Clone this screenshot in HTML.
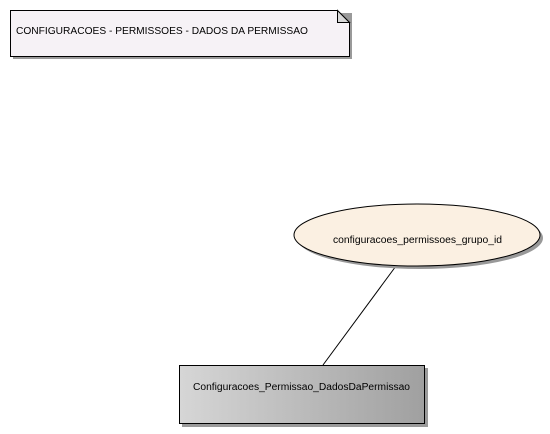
<!DOCTYPE html>
<html><head><style>
html,body{margin:0;padding:0;background:#fff;width:550px;height:434px;overflow:hidden}
svg text{font-family:"Liberation Sans",sans-serif;font-size:10px;fill:#000}
</style></head><body>
<svg width="550" height="434" xmlns="http://www.w3.org/2000/svg">
<defs>
<linearGradient id="g" x1="0" x2="1" y1="0" y2="0">
<stop offset="0" stop-color="#d6d6d6"/><stop offset="1" stop-color="#a0a0a0"/>
</linearGradient>
</defs>
<path d="M13,13 H352 V59 H13 Z" fill="#9a9a9a"/>
<path d="M10.5,10.5 H337.5 L349.5,22.5 V56.5 H10.5 Z" fill="#f6f2f6" stroke="#000" stroke-width="1"/>
<path d="M337.5,10.5 V22.5 H349.5 Z" fill="#d8d8d8" stroke="#000" stroke-width="1"/>
<text x="16" y="34" textLength="292" lengthAdjust="spacingAndGlyphs">CONFIGURACOES - PERMISSOES - DADOS DA PERMISSAO</text>
<line x1="396" y1="266" x2="323" y2="365" stroke="#000" stroke-width="1"/>
<ellipse cx="420" cy="238" rx="123" ry="31" fill="#999"/>
<ellipse cx="417" cy="235" rx="123" ry="31" fill="#fbf0e2" stroke="#000" stroke-width="1"/>
<text x="333" y="243" textLength="169" lengthAdjust="spacingAndGlyphs">configuracoes_permissoes_grupo_id</text>
<rect x="182" y="368" width="246" height="59" fill="#9a9a9a"/>
<rect x="179.5" y="365.5" width="245" height="58" fill="url(#g)" stroke="#000" stroke-width="1"/>
<text x="193" y="390" textLength="217" lengthAdjust="spacingAndGlyphs">Configuracoes_Permissao_DadosDaPermissao</text>
</svg>
</body></html>
